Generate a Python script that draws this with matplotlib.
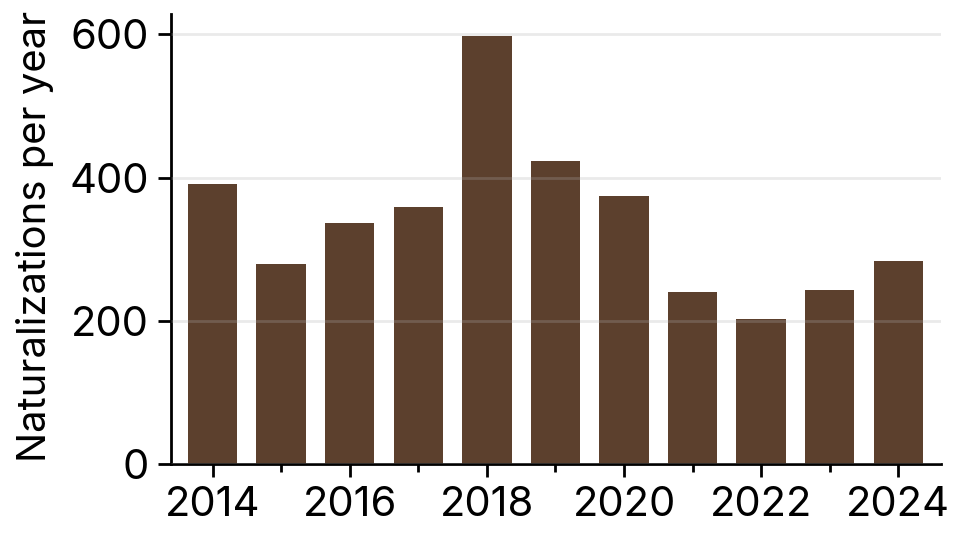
import numpy as np
import matplotlib.pyplot as plt
from matplotlib.ticker import MultipleLocator

# naturalizations per year
years = [2014, 2015, 2016, 2017, 2018, 2019, 2020, 2021, 2022, 2023, 2024]
counts = [391, 280, 337, 359, 598, 423, 374, 240, 203, 243, 284]

plt.rcParams['font.family'] = ['Inter', 'DejaVu Sans']

fig = plt.figure(figsize=(9.62, 5.46), dpi=100)
ax = fig.add_axes([0.1775, 0.1496, 0.978 - 0.1775, 0.974 - 0.1496])

ax.bar(years, counts, width=0.72, color='#5c402d', zorder=1)

ax.set_xlim(2013.39, 2024.62)
ax.set_ylim(0, 628)
ax.set_yticks([0, 200, 400, 600])
ax.xaxis.set_major_locator(MultipleLocator(2))
ax.xaxis.set_minor_locator(MultipleLocator(1))

# grid sits on top of the bars, faintly
ax.grid(axis='y', color='#b0b0b0', alpha=0.26, linewidth=2, zorder=3)
ax.set_axisbelow(False)

for s in ['top', 'right']:
    ax.spines[s].set_visible(False)
for s in ['left', 'bottom']:
    ax.spines[s].set_linewidth(2)

ax.tick_params(axis='both', which='major', length=9.5, width=2, labelsize=30, pad=6)
ax.tick_params(axis='x', which='minor', length=6, width=2)
ax.set_ylabel("Naturalizations per year", fontsize=28.8, labelpad=11)
ax.yaxis.label.set_y(0.507)

fig.savefig('out.png', dpi=100)
plt.close(fig)
